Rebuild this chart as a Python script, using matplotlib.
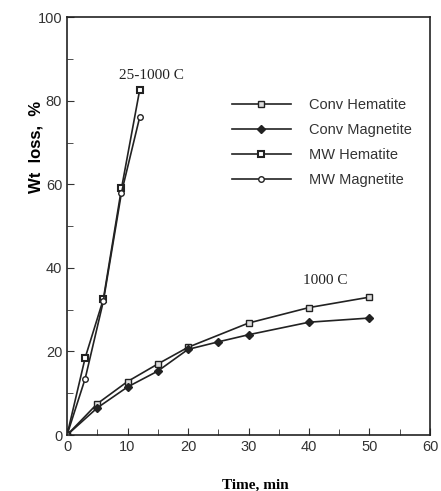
import matplotlib
matplotlib.use('Agg')
import matplotlib.pyplot as plt
from matplotlib.ticker import MultipleLocator

conv_hem_t = [0, 5, 10, 15, 20, 30, 40, 50]
conv_hem_w = [0, 7.5, 12.8, 17, 21, 26.8, 30.5, 33]
conv_mag_t = [0, 5, 10, 15, 20, 25, 30, 40, 50]
conv_mag_w = [0, 6.5, 11.5, 15.3, 20.5, 22.3, 24, 27, 28]
mw_hem_t = [0, 3, 6, 9, 12]
mw_hem_w = [0, 18.5, 32.5, 59, 82.5]
mw_mag_t = [0, 3, 6, 9, 12]
mw_mag_w = [0, 13.5, 32, 58, 76]

fig = plt.figure(figsize=(4.41, 4.91), dpi=100)
ax = fig.add_axes([0.152, 0.114, 0.823, 0.851])

ax.plot(conv_hem_t, conv_hem_w, color='#222', lw=1.2, marker='s', ms=5,
        mfc='#ddd', mec='#222', mew=1, label='Conv Hematite')
ax.plot(conv_mag_t, conv_mag_w, color='#222', lw=1.2, marker='D', ms=4,
        mfc='#222', mec='#222', label='Conv Magnetite')
ax.plot(mw_hem_t, mw_hem_w, color='#222', lw=1.2, marker='s', ms=5,
        mfc='white', mec='#222', mew=1.5, label='MW Hematite')
ax.plot(mw_mag_t, mw_mag_w, color='#222', lw=1.2, marker='o', ms=4,
        mfc='white', mec='#222', mew=1, label='MW Magnetite')

ax.set_xlim(0, 60)
ax.set_ylim(0, 100)
ax.xaxis.set_major_locator(MultipleLocator(10))
ax.xaxis.set_minor_locator(MultipleLocator(5))
ax.yaxis.set_major_locator(MultipleLocator(20))
ax.yaxis.set_minor_locator(MultipleLocator(10))
ax.tick_params(which='both', direction='in', labelsize=10.5, colors='#333')
ax.tick_params(which='major', length=5)
ax.tick_params(which='minor', length=4)
for lab in ax.get_xticklabels() + ax.get_yticklabels():
    lab.set_fontfamily('Liberation Sans')
for s in ax.spines.values():
    s.set_linewidth(1.2)
    s.set_color('#222')

ax.set_xlabel('Time, min', fontfamily='Liberation Serif', fontweight='bold',
              fontsize=11)
ax.xaxis.set_label_coords(0.52, -0.103)
ax.set_ylabel('Wt  loss,  %', fontfamily='Liberation Sans', fontweight='bold',
              fontsize=12)
ax.yaxis.set_label_coords(-0.065, 0.69)

ax.text(14, 86, '25-1000 C', fontfamily='Liberation Serif', fontsize=11,
        ha='center', va='center', color='#222')
ax.text(42.7, 37, '1000 C', fontfamily='Liberation Serif', fontsize=11,
        ha='center', va='center', color='#222')

leg = ax.legend(loc='upper left', bbox_to_anchor=(0.455, 0.806), frameon=False,
                prop={'family': 'Liberation Sans', 'size': 10.5},
                handlelength=4.0, labelspacing=0.75, handletextpad=1.3,
                borderpad=0, borderaxespad=0)
for t in leg.get_texts():
    t.set_color('#333')

fig.savefig('out.png', dpi=100)
